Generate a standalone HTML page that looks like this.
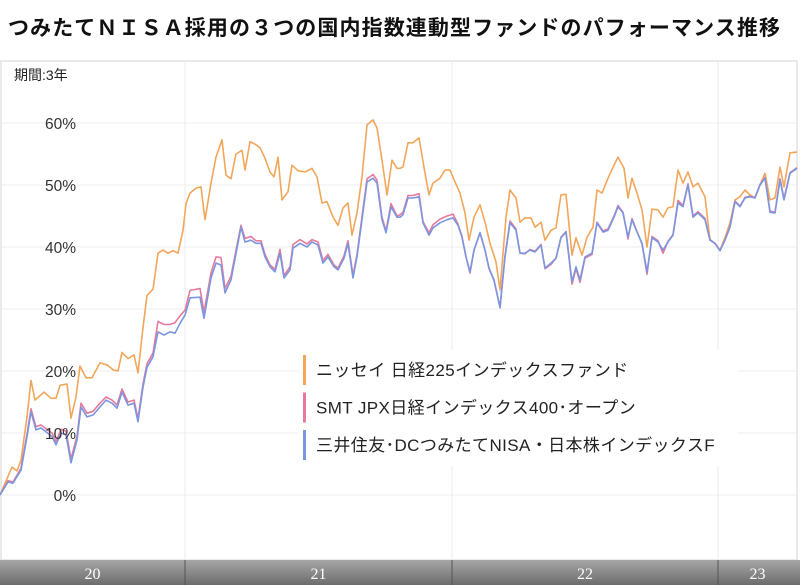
<!DOCTYPE html>
<html><head><meta charset="utf-8">
<style>
body{margin:0;background:#fff;width:800px;height:585px;overflow:hidden;font-family:"Liberation Sans","Noto Sans CJK JP",sans-serif;}
#title{position:absolute;left:8px;top:12px;font-size:21px;font-weight:bold;letter-spacing:1.1px;color:#111;white-space:nowrap;}
svg{position:absolute;left:0;top:0;}
</style></head><body>
<div id="title">つみたてＮＩＳＡ採用の３つの国内指数連動型ファンドのパフォーマンス推移</div>
<svg id="chart" width="800" height="585"></svg>
<script>
const yTicks=[0,10,20,30,40,50,60];
const yearLabels=["20","21","22","23"];
const yearStarts=[0,185,452,718,797];
const seriesNames=["ニッセイ 日経225インデックスファンド","SMT JPX日経インデックス400･オープン","三井住友･DCつみたてNISA・日本株インデックスF"];
const orangeDays=[0,12,17,21,27,31,35,44,51,56,60,67,71,76,80,86,92,100,107,113,118,122,128,134,138,143,147,153,158,163,168,173,178,183,186,190,196,201,205,211,216,222,226,231,236,242,245,250,255,260,265,270,274,278,282,288,292,298,305,312,317,322,327,333,338,343,348,352,357,362,367,373,377,382,387,392,397,400,403,408,413,419,425,429,433,440,445,450,455,460,465,469,474,480,485,490,496,500,506,510,516,520,525,531,535,541,545,551,556,561,566,572,576,582,587,593,597,602,608,614,618,624,628,632,637,642,647,652,658,663,668,673,678,683,688,693,698,705,710,715,720,725,730,735,740,745,750,755,760,765,770,775,780,784,790,797];
const orangeVals=[0,4.5,3.9,5.6,12.6,18.5,15.3,16.6,15.6,15.6,17.7,17.9,12.4,15.8,20.8,18.9,18.9,21.3,21,20.2,20,23,22,22.6,19.7,27,32.2,33.2,39,39.5,39,39.4,39,42.7,47,48.7,49.5,49.7,44.4,50.3,54.5,57.3,51.6,51,55,55.6,52.4,57,56.6,56,54.3,52.1,51.3,54.5,47.6,48.9,53.2,52.3,52.1,52.7,51.3,47.1,47.3,44.8,43.5,46.3,47.1,41.9,45.5,51.3,59.7,60.5,59.2,54,48.4,54,52.7,52.7,52.9,56.8,56.8,57.6,51.9,48.4,50.3,51.1,52.4,52.4,50.5,48.7,45.5,41.1,44.8,46.8,44,40.6,37.6,33.1,44.8,49.2,47.9,44,44.7,44.7,43.2,44,41.1,42.7,43.1,48.4,48.5,38.7,41.5,38.7,41.6,43.2,49.2,48.7,51.1,53.2,54.5,52.7,47.9,51.1,48.7,46,40,46.1,46,44.8,46.3,46.5,52.4,50.3,52.1,49.7,50.3,48.1,41.1,40.6,39.5,41.5,43.9,47.6,48.1,49.2,48.4,47.9,50,51.9,47.6,47.9,52.9,49.7,55.2,55.3];
const blueDays=[0,8,13,21,27,31,36,41,46,52,56,61,66,71,77,81,87,93,100,106,112,117,122,128,134,138,143,147,153,158,164,170,175,180,185,190,200,204,211,216,221,225,231,237,241,245,251,256,261,265,270,275,280,284,290,293,300,307,312,318,323,328,334,338,344,348,353,357,362,367,373,377,382,386,391,397,400,403,408,413,419,423,429,433,440,447,453,458,462,466,470,474,480,485,489,494,500,505,510,516,520,525,530,535,541,545,551,556,561,566,572,576,580,585,592,597,603,608,614,618,623,628,632,637,642,647,652,658,663,668,673,678,683,688,693,698,705,710,715,720,725,730,735,740,745,750,755,760,765,770,775,780,784,790,797];
const blueVals=[0,2.1,1.9,4,9.4,13.4,10.5,10.8,10.2,9.4,8.1,10,9.7,5.2,8.9,14.2,12.6,12.9,14.2,15.3,14.8,14,16.6,14.5,14.8,11.8,17.4,20.6,22.3,26.3,25.8,26.3,26.1,27.7,29,31.8,31.9,28.5,35,37.4,37.1,32.6,34.7,39.8,43.2,40.8,41.1,40.6,40.6,38.4,36.8,36,39,35,36.3,39.8,40.6,40,40.8,40.3,37.4,38.4,36.8,36.3,38.2,40.6,35,38.4,44.4,50.5,51.1,50.3,44.4,42.3,46.5,44.8,44.8,45.2,47.9,47.9,48.1,43.9,41.9,43.1,43.9,44.4,44.7,43.5,41.6,38.4,36,39.5,42.3,39.5,36.6,34.7,30.2,38.4,43.9,42.7,39,39,39.5,39.2,40.3,36.6,37.4,38.2,41.5,42.4,34.4,36.8,34.7,38.4,39,43.9,42.4,42.7,44.8,46.5,45.5,41.6,44.4,42.4,40.6,36,41.5,40.8,39.5,40.8,41.9,47.1,46.5,50,44.8,45.5,44.4,41.1,40.6,39.4,41.1,43.2,47.3,46.5,47.9,48.1,47.9,50,51.1,45.6,45.5,50.8,47.6,51.9,52.7];
const pinkVals=[0,2.3,2.1,4.3,9.8,13.9,11,11.3,10.7,10,8.6,10.6,10.3,5.8,9.5,14.8,13.2,13.5,14.8,15.8,15.3,14.5,17.1,15,15.3,12.3,17.9,21.2,22.9,28,27.5,27.5,27.8,28.9,29.8,33,33.3,29.5,35.8,38.4,38.3,33.3,35.3,40.3,43.5,41.4,41.7,41,41,38.8,37.1,36.4,39.6,35.4,36.8,40.4,41.2,40.5,41.2,40.8,37.8,38.8,37.1,36.6,38.6,41,35.4,38.8,44.9,51,51.7,50.8,44.8,42.6,47,45,45.2,45.6,48.3,48.3,48.6,44.1,42.3,43.6,44.5,45,45.3,43.7,41.7,38.4,35.8,39.5,42.3,39.5,36.5,34.6,30.3,38.6,44.2,42.9,39,38.9,39.6,39.3,40.4,36.5,37.2,38.2,41.6,42.5,34,36.5,34.3,38.2,38.8,44,42.6,42.9,45,46.7,45.6,41.3,44.6,42.5,40.5,35.6,41.7,41,39,40.9,42,47.5,46.7,50.2,45,45.7,44.6,41.2,40.6,39.4,41.2,43.3,47.4,46.6,48,48.2,48,50.1,51.2,45.8,45.6,51,47.8,52,52.8];

const NS="http://www.w3.org/2000/svg";
const svg=document.getElementById('chart');
const X0=0,X1=797;
const xs=d=>X0+(d-0)/(797-0)*(X1-X0);
const ys=v=>495-v*6.2;
function mk(tag,attrs,parent){const e=document.createElementNS(NS,tag);for(const k in attrs)e.setAttribute(k,attrs[k]);(parent||svg).appendChild(e);return e;}

const frame=mk('rect',{x:1,y:61,width:796,height:499,fill:'#fff',stroke:'#e2e2e2','stroke-width':1.5});


for(let i=1;i<yearStarts.length-1;i++){
  const g=mk('line',{x1:yearStarts[i],x2:yearStarts[i],y1:61,y2:560,stroke:'#ebebeb','stroke-width':1});
  
  
}
yTicks.forEach(t=>{
  const g=mk('line',{x1:1,x2:797,y1:ys(t),y2:ys(t),stroke:'#ececec','stroke-width':1});
  
  
});
function line(days,vals,color,name){
  const d=days.map((dd,i)=>(i?'L':'M')+xs(dd).toFixed(1)+','+ys(vals[i]).toFixed(1)).join(' ');
  const p=mk('path',{d:d,fill:'none',stroke:color,'stroke-width':1.6,'stroke-linejoin':'round'});
  
  
}
line(orangeDays,orangeVals,'#f2a65a','series-nissay-225');
line(blueDays,pinkVals,'#e57a9c','series-smt-jpx400');
line(blueDays,blueVals,'#7b96e0','series-smbc-dc-nisa');
yTicks.forEach(t=>{
  const tx=mk('text',{x:76,y:ys(t)+6,'text-anchor':'end','font-size':15.5,fill:'#333','font-family':'Liberation Sans, sans-serif'});
  tx.textContent=t+'%';
  
  
});
const per=mk('text',{x:14,y:80,'font-size':14,fill:'#222','font-family':'Liberation Sans, Noto Sans CJK JP, sans-serif'});
per.textContent='期間:3年';


const legendColors=['#f2a65a','#e57a9c','#7b96e0'];
const lg=mk('rect',{x:298,y:350,width:440,height:116,fill:'#fff'});


seriesNames.forEach((n,i)=>{
  const y=355+i*37.5;
  const b=mk('rect',{x:303,y:y,width:3,height:30,fill:legendColors[i]});
  
  
  const t=mk('text',{x:316,y:y+21,'font-size':17,'letter-spacing':0.4,fill:'#222','font-family':'Liberation Sans, Noto Sans CJK JP, sans-serif'});
  t.textContent=n;
  
  
});
const defs=mk('defs',{});
const gr=mk('linearGradient',{id:'gb',x1:0,y1:0,x2:0,y2:1},defs);
mk('stop',{offset:'0','stop-color':'#a6a6a6'},gr);
mk('stop',{offset:'1','stop-color':'#6c6c6c'},gr);
const bar=mk('rect',{x:0,y:560,width:800,height:25,fill:'url(#gb)'});


yearLabels.forEach((l,i)=>{
  if(i>0){const s=mk('line',{x1:yearStarts[i],x2:yearStarts[i],y1:560,y2:585,stroke:'#555','stroke-width':1});
    
    }
  const t=mk('text',{x:(yearStarts[i]+yearStarts[i+1])/2,y:579,'text-anchor':'middle','font-size':16,fill:'#fff','font-family':'Liberation Serif, serif'});
  t.textContent=l;
  
  
});
</script>
</body></html>
